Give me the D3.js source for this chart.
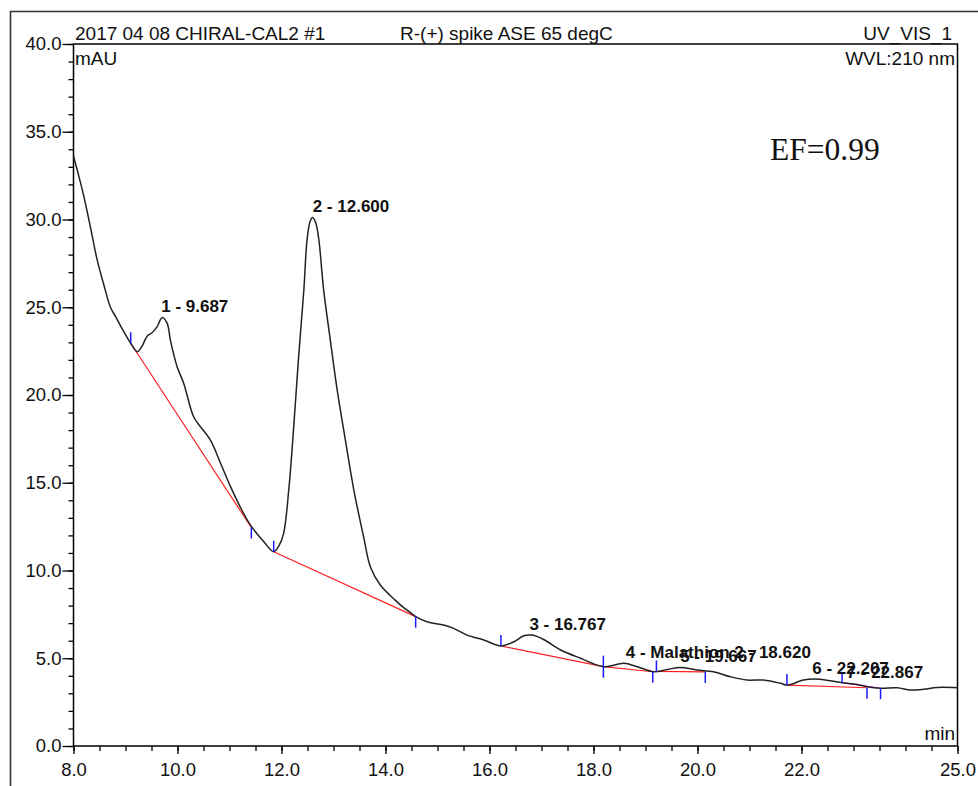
<!DOCTYPE html>
<html>
<head>
<meta charset="utf-8">
<script src="https://cdn.jsdelivr.net/npm/d3@7"></script>
<style>
  html, body { margin: 0; padding: 0; background: #fff; }
  svg { display: block; }
  text { font-family: "Liberation Sans", Arial, sans-serif; fill: #111; }
</style>
</head>
<body>
<svg id="chart" width="978" height="786"></svg>
<script>
// ---- Data ----
const timeMin = [8.00, 8.10, 8.20, 8.33, 8.455, 8.60, 8.71, 8.81, 8.95, 9.10, 9.225, 9.32, 9.417, 9.51, 9.61, 9.705, 9.80, 9.865, 9.994, 10.12, 10.31, 10.44, 10.63, 10.83, 11.02, 11.21, 11.40, 11.66, 11.85, 11.95, 12.04, 12.14, 12.24, 12.33, 12.43, 12.49, 12.55, 12.60, 12.66, 12.72, 12.81, 12.94, 13.07, 13.23, 13.39, 13.58, 13.71, 13.90, 14.19, 14.29, 14.48, 14.58, 14.80, 15.12, 15.31, 15.57, 15.89, 16.22, 16.47, 16.66, 16.82, 17.04, 17.37, 17.75, 18.20, 18.58, 18.84, 19.16, 19.42, 19.67, 19.99, 20.31, 20.63, 20.95, 21.27, 21.60, 21.72, 22.04, 22.24, 22.56, 22.78, 23.07, 23.26, 23.52, 23.84, 24.10, 24.35, 24.61, 25.00];
const signalMAU = [33.6, 32.5, 31.3, 29.5, 27.7, 26.1, 25.0, 24.46, 23.7, 22.95, 22.47, 22.8, 23.35, 23.55, 23.9, 24.42, 24.1, 23.1, 21.6, 20.66, 18.76, 18.2, 17.44, 16.1, 14.78, 13.6, 12.6, 11.64, 11.07, 11.4, 12.1, 14.6, 18.4, 22.2, 26.0, 28.8, 29.9, 30.12, 29.8, 28.8, 26.0, 23.1, 20.3, 17.4, 14.6, 11.9, 10.2, 9.17, 8.3, 8.03, 7.6, 7.37, 7.08, 6.89, 6.7, 6.32, 6.04, 5.70, 5.94, 6.28, 6.32, 6.07, 5.47, 5.0, 4.52, 4.71, 4.52, 4.23, 4.36, 4.48, 4.33, 4.23, 3.95, 3.76, 3.76, 3.57, 3.47, 3.76, 3.82, 3.72, 3.61, 3.51, 3.38, 3.29, 3.32, 3.19, 3.23, 3.34, 3.32];

// Peaks: label, retention time, apex value
const peakLabels = ["1 - 9.687", "2 - 12.600", "3 - 16.767", "4 - Malathion 2 - 18.620", "5 - 19.667", "6 - 22.207", "7 - 22.867"];
const peakTimes  = [9.687, 12.600, 16.767, 18.620, 19.667, 22.207, 22.867];
const peakApex   = [24.42, 30.12, 6.32, 4.71, 4.48, 3.82, 3.58];

// Integration baselines: start time/value, end time/value, colour
const baseStartT = [9.10, 11.85, 16.22, 18.19, 19.21, 21.72, 22.78];
const baseStartV = [22.95, 11.07, 5.70, 4.52, 4.25, 3.47, 3.61];
const baseEndT   = [11.42, 14.58, 18.19, 19.14, 20.15, 23.26, 23.52];
const baseEndV   = [12.45, 7.37, 4.52, 4.23, 4.22, 3.32, 3.29];
const baseColor  = ["#ff2020", "#ff2020", "#ff2020", "#ff2020", "#ff2020", "#ff2020", "#e020e0"];

const xMajorTicks = [8, 10, 12, 14, 16, 18, 20, 22, 25];
const yMajorTicks = [0, 5, 10, 15, 20, 25, 30, 35, 40];

const headerLeft = "2017 04 08 CHIRAL-CAL2 #1";
const headerMid = "R-(+) spike ASE 65 degC";
const headerRight = "UV_VIS_1";
const unitY = "mAU";
const unitX = "min";
const wvl = "WVL:210 nm";
const efText = "EF=0.99";

// ---- Drawing ----
const svg = d3.select("#chart");
const L = 73.5, R = 957.5, T = 44, B = 746;
const x = d3.scaleLinear().domain([8, 25]).range([L, R]);
const y = d3.scaleLinear().domain([0, 40]).range([B, T]);

// outer frame
svg.append("path")
  .attr("d", `M10.5,800 L10.5,11.5 L990,11.5`)
  .attr("fill", "none").attr("stroke", "#333").attr("stroke-width", 1.6);

// minor ticks
const fontSize = "18.5px";
svg.append("g").attr("transform", `translate(${L},0)`)
  .call(d3.axisLeft(y).tickValues(d3.range(0, 41, 1)).tickSize(5).tickFormat(""))
  .call(g => g.select(".domain").remove())
  .call(g => g.selectAll("line").attr("stroke", "#000").attr("stroke-width", 1.3));
svg.append("g").attr("transform", `translate(0,${B})`)
  .call(d3.axisBottom(x).tickValues(d3.range(8, 25.01, 0.5)).tickSize(5).tickFormat(""))
  .call(g => g.select(".domain").remove())
  .call(g => g.selectAll("line").attr("stroke", "#000").attr("stroke-width", 1.3));

// major ticks & labels
svg.append("g").attr("transform", `translate(${L},0)`)
  .call(d3.axisLeft(y).tickValues(yMajorTicks).tickSize(11).tickPadding(1).tickFormat(d3.format(".1f")))
  .call(g => g.select(".domain").remove())
  .call(g => g.selectAll("line").attr("stroke", "#000").attr("stroke-width", 1.3))
  .call(g => g.selectAll("text").attr("font-size", fontSize).attr("font-family", "Liberation Sans, Arial, sans-serif").attr("fill", "#111"));
svg.append("g").attr("transform", `translate(0,${B})`)
  .call(d3.axisBottom(x).tickValues(xMajorTicks).tickSize(8).tickPadding(9).tickFormat(d3.format(".1f")))
  .call(g => g.select(".domain").remove())
  .call(g => g.selectAll("line").attr("stroke", "#000").attr("stroke-width", 1.3))
  .call(g => g.selectAll("text").attr("font-size", fontSize).attr("font-family", "Liberation Sans, Arial, sans-serif").attr("fill", "#111"));

// plot box
svg.append("path")
  .attr("d", `M${L},${B} L${L},${T} L${R},${T} L${R},${B} L${L},${B}`)
  .attr("fill", "none").attr("stroke", "#000").attr("stroke-width", 1.5);

// baselines
const bIdx = d3.range(baseStartT.length);
svg.append("g").selectAll("line").data(bIdx).join("line")
  .attr("x1", i => x(baseStartT[i])).attr("y1", i => y(baseStartV[i]))
  .attr("x2", i => x(baseEndT[i])).attr("y2", i => y(baseEndV[i]))
  .attr("stroke", i => baseColor[i]).attr("stroke-width", 1.2);

// chromatogram
const pts = timeMin.map((t, i) => [t, signalMAU[i]]);
svg.append("path")
  .datum(pts)
  .attr("d", d3.line().x(d => x(d[0])).y(d => y(d[1])).curve(d3.curveCatmullRom.alpha(0.5)))
  .attr("fill", "none").attr("stroke", "#222").attr("stroke-width", 1.5);

// peak delimiter ticks (blue): start above, end below
const tickLen = 11;
svg.append("g").selectAll("line.s").data(bIdx).join("line")
  .attr("x1", i => x(baseStartT[i])).attr("x2", i => x(baseStartT[i]))
  .attr("y1", i => y(baseStartV[i])).attr("y2", i => y(baseStartV[i]) - tickLen)
  .attr("stroke", "#1a1aff").attr("stroke-width", 1.5);
svg.append("g").selectAll("line.e").data(bIdx).join("line")
  .attr("x1", i => x(baseEndT[i])).attr("x2", i => x(baseEndT[i]))
  .attr("y1", i => y(baseEndV[i])).attr("y2", i => y(baseEndV[i]) + tickLen)
  .attr("stroke", "#1a1aff").attr("stroke-width", 1.5);

// peak labels
svg.append("g").selectAll("text").data(d3.range(peakLabels.length)).join("text")
  .attr("x", i => x(peakTimes[i]))
  .attr("y", i => y(peakApex[i]) - 5)
  .attr("font-size", "17px").attr("font-weight", "bold")
  .attr("fill", "#1a1a1a")
  .text(i => peakLabels[i]);

// header and annotation texts
svg.append("text").attr("x", 75).attr("y", 40).attr("font-size", "19px").text(headerLeft);
svg.append("text").attr("x", 400).attr("y", 40).attr("font-size", "19px").text(headerMid);
svg.append("text").attr("x", 952).attr("y", 40).attr("text-anchor", "end").attr("font-size", "19px").text(headerRight);
svg.append("text").attr("x", 75).attr("y", 65).attr("font-size", "19px").text(unitY);
svg.append("text").attr("x", 955).attr("y", 65).attr("text-anchor", "end").attr("font-size", "19px").text(wvl);
svg.append("text").attr("x", 955).attr("y", 740).attr("text-anchor", "end").attr("font-size", "19px").text(unitX);
svg.append("text").attr("x", 770).attr("y", 160).attr("font-size", "31.5px")
  .style("font-family", "'Liberation Serif', 'Times New Roman', serif").attr("fill", "#000").text(efText);
</script>
</body>
</html>
